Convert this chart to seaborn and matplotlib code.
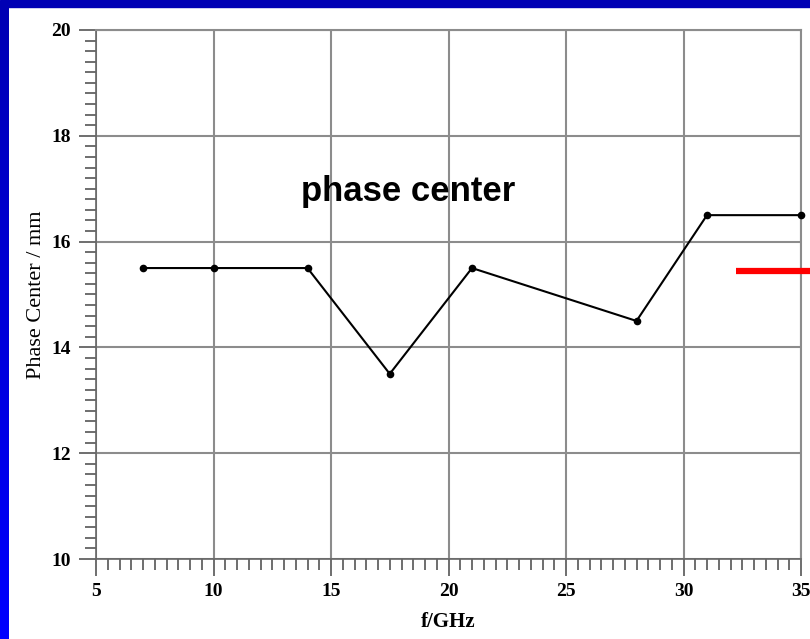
import matplotlib
matplotlib.use("Agg")
import matplotlib.pyplot as plt
import seaborn as sns
import pandas as pd
import numpy as np
from matplotlib.ticker import MultipleLocator
from matplotlib.patches import Rectangle

freq_ghz = [7, 10, 14, 17.5, 21, 28, 31, 35]
phase_center_mm = [15.5, 15.5, 15.5, 13.5, 15.5, 14.5, 16.5, 16.5]
x_ticks = [5, 10, 15, 20, 25, 30, 35]
y_ticks = [10, 12, 14, 16, 18, 20]
red_mark_x = [32.25, 36.2]
red_mark_y = [15.44, 15.44]

df = pd.DataFrame({"f": freq_ghz, "pc": phase_center_mm})

sns.set_style("white")
plt.rcParams["font.family"] = ["Liberation Serif", "DejaVu Serif"]
plt.rcParams["text.color"] = "black"
plt.rcParams["axes.labelcolor"] = "black"
plt.rcParams["xtick.color"] = "#555555"
plt.rcParams["ytick.color"] = "#555555"

fig = plt.figure(figsize=(8.1, 6.39), dpi=100)
fig.patch.set_facecolor("white")

# blue frame (slide background)
fig.add_artist(Rectangle((0, 1 - 7 / 639), 1, 7 / 639, transform=fig.transFigure,
                         color="#0000B4", zorder=0))
grad = fig.add_axes([0, 0, 9 / 810, 1 - 7 / 639])
grad.imshow(np.linspace(1, 0, 100).reshape(-1, 1), aspect="auto",
            cmap=matplotlib.colors.LinearSegmentedColormap.from_list("b", ["#0000FF", "#0000B4"]),
            extent=[0, 1, 0, 1])
grad.set_axis_off()

ax = fig.add_axes([96 / 810, 1 - 559 / 639, (801 - 96) / 810, (559 - 30) / 639])
sns.lineplot(data=df, x="f", y="pc", ax=ax, color="black", linewidth=1.5,
             marker="o", markersize=5.5, markeredgewidth=0, clip_on=False, zorder=5)

ax.set_xlim(5, 35)
ax.set_ylim(10, 20)
ax.set_xticks(x_ticks)
ax.set_yticks(y_ticks)
ax.xaxis.set_minor_locator(MultipleLocator(0.5))
ax.yaxis.set_minor_locator(MultipleLocator(0.2))
ax.grid(True, which="major", color="#8c8c8c", linewidth=1.5)
ax.set_axisbelow(True)

for s in ["top", "right"]:
    ax.spines[s].set_color("#8c8c8c")
    ax.spines[s].set_linewidth(1.5)
for s in ["left", "bottom"]:
    ax.spines[s].set_color("#666666")
    ax.spines[s].set_linewidth(1.2)

ax.tick_params(axis="both", which="both", bottom=True, left=True, top=False, right=False)
ax.tick_params(axis="both", which="major", direction="out", length=12, width=1.2,
               color="#555555", labelcolor="black", labelsize=14)
ax.tick_params(axis="both", which="minor", direction="out", length=8, width=1.2,
               color="#555555")
ax.tick_params(axis="x", which="major", pad=5)
ax.tick_params(axis="y", which="major", pad=6)
for lab in ax.get_xticklabels() + ax.get_yticklabels():
    lab.set_fontweight("bold")

ax.set_xlabel("f/GHz", fontsize=15, fontweight="bold", labelpad=9)
ax.set_ylabel("Phase Center / mm", fontsize=16, labelpad=4)

ax.text(0.443, 0.695, "phase center", transform=ax.transAxes, ha="center", va="center",
        fontsize=25, fontweight="bold", family=["Liberation Sans", "DejaVu Sans"])

ax.plot(red_mark_x, red_mark_y, color="#FF0000", linewidth=4.5, clip_on=False,
        solid_capstyle="butt", zorder=6)

fig.savefig("out.png", dpi=100)
